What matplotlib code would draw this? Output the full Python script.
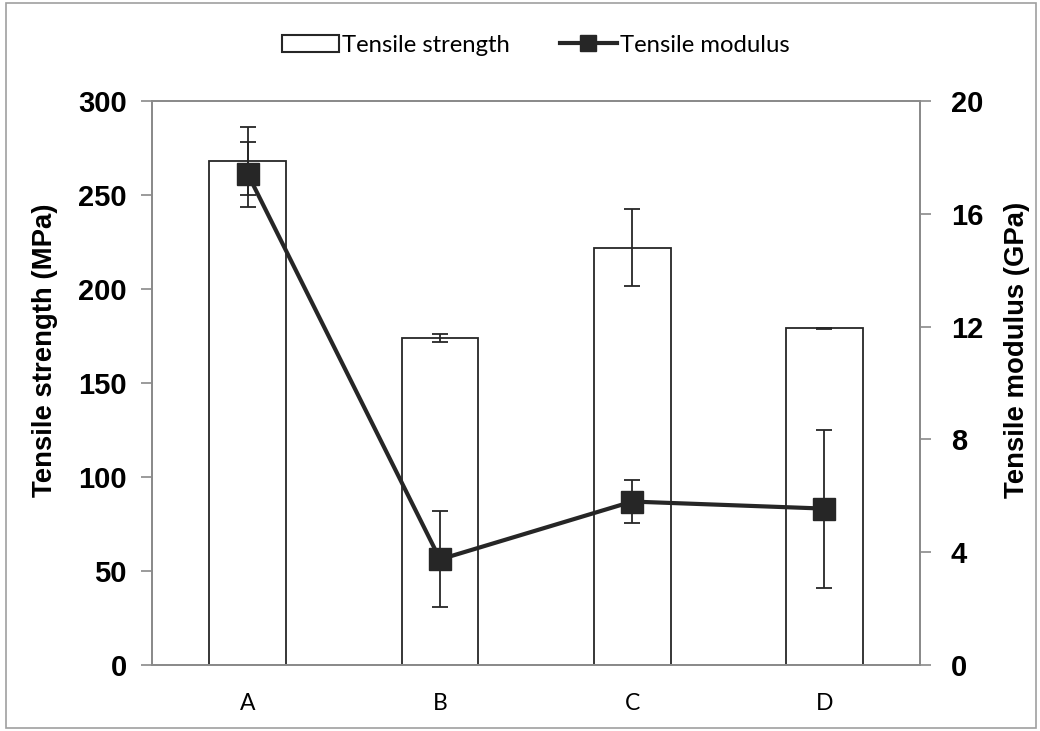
import matplotlib.pyplot as plt
import numpy as np
from matplotlib.patches import Rectangle
from matplotlib.lines import Line2D

# data
samples = ['A', 'B', 'C', 'D']
strength = [268, 174, 222, 179]        # MPa
strength_err = [18, 2, 20.5, 0.5]
modulus = [17.4, 3.75, 5.8, 5.55]      # GPa
modulus_err = [1.15, 1.7, 0.75, 2.8]

bold_font = 'Liberation Sans'
label_font = 'Lato'
dark = '#262626'
spine_gray = '#8a8a8a'

fig = plt.figure(figsize=(10.4, 7.31), dpi=100)
ax = fig.add_axes([0.146, 0.090, 0.739, 0.772])
ax2 = ax.twinx()

x = np.arange(len(samples))
ax.bar(x, strength, width=0.4, color='white', edgecolor=dark, linewidth=1.3, zorder=2)
ax.errorbar(x, strength, yerr=strength_err, fmt='none', ecolor=dark, elinewidth=1.3,
            capsize=5.5, capthick=1.3, zorder=3)

ax2.errorbar(x, modulus, yerr=modulus_err, fmt='none', ecolor=dark, elinewidth=1.3,
             capsize=5.5, capthick=1.3, zorder=3)
ax2.plot(x, modulus, color=dark, lw=3, marker='s', markersize=16, zorder=4)

ax.set_xlim(-0.5, 3.5)
ax.set_ylim(0, 300)
ax2.set_ylim(0, 20)
ax.set_yticks(np.arange(0, 301, 50))
ax2.set_yticks(np.arange(0, 21, 4))
ax.set_xticks(x)
ax.set_xticklabels(samples, fontsize=16.5, family=label_font)

for a in (ax, ax2):
    for s in a.spines.values():
        s.set_color(spine_gray)
        s.set_linewidth(1.3)
    a.tick_params(axis='y', direction='out', length=8, width=1.2, color=spine_gray,
                  labelsize=21)
    for lab in a.get_yticklabels():
        lab.set_family(bold_font)
        lab.set_fontweight('bold')
ax.tick_params(axis='y', pad=10)
ax2.tick_params(axis='y', pad=14)
ax.tick_params(axis='x', length=0, pad=20)

ax.set_ylabel('Tensile strength (MPa)', fontsize=19.8, fontweight='bold', family=bold_font)
ax2.set_ylabel('Tensile modulus (GPa)', fontsize=19.8, fontweight='bold', family=bold_font)
ax.yaxis.set_label_coords(-0.122, 0.558)
ax2.yaxis.set_label_coords(1.109, 0.558)

handles = [Rectangle((0, 0), 1, 1, facecolor='white', edgecolor=dark, linewidth=1.5),
           Line2D([], [], color=dark, lw=3, marker='s', markersize=12)]
fig.legend(handles, ['Tensile strength', 'Tensile modulus'], loc='center',
           bbox_to_anchor=(0.515, 0.938), ncol=2, frameon=False,
           prop={'family': label_font, 'size': 17.2}, handlelength=2.4,
           handletextpad=0.1, columnspacing=2.1)

# outer frame round the whole figure
fig.patches.append(Rectangle((0.006, 0.004), 0.99, 0.992, transform=fig.transFigure,
                             fill=False, edgecolor='#a0a0a0', linewidth=1.2))

fig.savefig('out.png', dpi=100)
